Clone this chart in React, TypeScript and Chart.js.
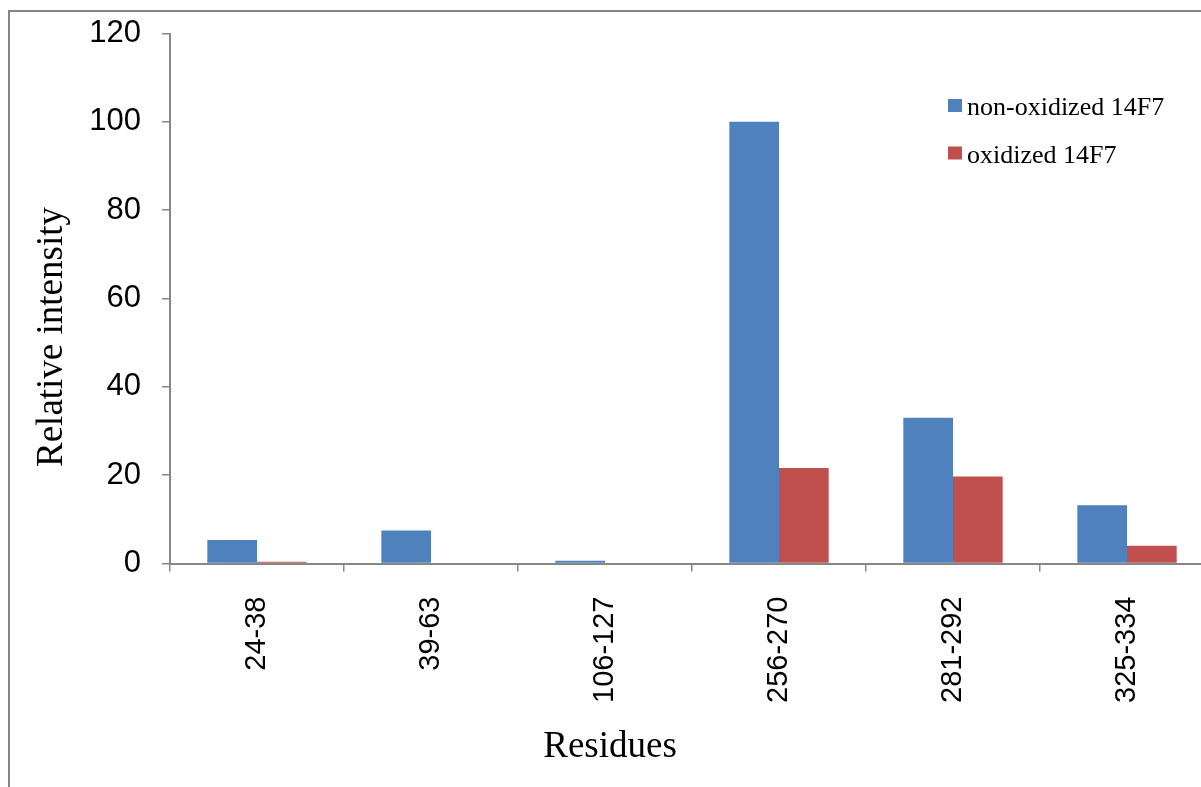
import React, { useEffect, useRef } from "react";
import { Chart, registerables } from "chart.js";

Chart.register(...registerables);

// Peptide residue ranges and relative intensities
const residues = ["24-38", "39-63", "106-127", "256-270", "281-292", "325-334"];
const nonOxidized = [5.3, 7.5, 0.6, 100, 33, 13.2];
const oxidized = [0.4, 0, 0, 21.6, 19.7, 4];
const yTicks = [0, 20, 40, 60, 80, 100, 120];

const seriesLabels = ["non-oxidized 14F7", "oxidized 14F7"];
const seriesColors = ["#4F81BD", "#C0504D"];
const xTitle = "Residues";
const yTitle = "Relative intensity";

const AXIS_GRAY = "#868686";
const TITLE_FONT = "37px 'Liberation Serif'";

// Legend drawn inside the plot, upper right
const insideLegend = {
  id: "insideLegend",
  afterDraw(chart: Chart) {
    const { ctx } = chart;
    ctx.save();
    ctx.font = "26px 'Liberation Serif'";
    ctx.textBaseline = "alphabetic";
    ctx.textAlign = "left";
    chart.data.datasets.forEach((ds, i) => {
      const y = 99 + i * 47.5;
      ctx.fillStyle = ds.backgroundColor as string;
      ctx.fillRect(948, y, 14, 13);
      ctx.fillStyle = "#000";
      ctx.fillText(ds.label as string, 967, y + 16);
    });
    ctx.restore();
  },
};

// Axis titles, placed independently of the scale boxes
const axisTitles = {
  id: "axisTitles",
  afterDraw(chart: Chart) {
    const { ctx } = chart;
    ctx.save();
    ctx.font = TITLE_FONT;
    ctx.fillStyle = "#000";
    ctx.textAlign = "center";
    ctx.textBaseline = "alphabetic";
    ctx.fillText(xTitle, 610, 757);
    ctx.translate(62, 337);
    ctx.rotate(-Math.PI / 2);
    ctx.fillText(yTitle, 0, 0);
    ctx.restore();
  },
};

export default function App() {
  const canvasRef = useRef<HTMLCanvasElement | null>(null);

  useEffect(() => {
    if (!canvasRef.current) return;
    const chart = new Chart(canvasRef.current, {
      type: "bar",
      data: {
        labels: residues,
        datasets: [
          {
            label: seriesLabels[0],
            data: nonOxidized,
            backgroundColor: seriesColors[0],
            categoryPercentage: 0.571,
            barPercentage: 1,
          },
          {
            label: seriesLabels[1],
            data: oxidized,
            backgroundColor: seriesColors[1],
            categoryPercentage: 0.571,
            barPercentage: 1,
          },
        ],
      },
      options: {
        responsive: false,
        animation: false,
        devicePixelRatio: 1,
        layout: { padding: { top: 33.5, right: 16, bottom: 0, left: 0 } },
        plugins: {
          legend: { display: false },
          tooltip: { enabled: false },
        },
        scales: {
          x: {
            offset: true,
            grid: {
              offset: true,
              drawOnChartArea: false,
              drawTicks: true,
              tickLength: 8,
              color: AXIS_GRAY,
              lineWidth: 1.5,
            },
            border: { display: true, color: AXIS_GRAY, width: 2 },
            ticks: {
              minRotation: 90,
              maxRotation: 90,
              autoSkip: false,
              padding: 25,
              color: "#000",
              font: { family: "'Liberation Sans'", size: 29 },
            },
            afterFit(scale: any) {
              scale.height = 223.5;
              scale.paddingLeft = 0;
              scale.paddingRight = 0;
            },
          },
          y: {
            min: 0,
            max: 120,
            afterBuildTicks(scale: any) {
              scale.ticks = yTicks.map((v) => ({ value: v }));
            },
            grid: {
              drawOnChartArea: false,
              drawTicks: true,
              tickLength: 8,
              color: AXIS_GRAY,
              lineWidth: 1.5,
            },
            border: { display: true, color: AXIS_GRAY, width: 2 },
            ticks: {
              padding: 21,
              color: "#000",
              font: { family: "'Liberation Sans'", size: 31 },
            },
            afterFit(scale: any) {
              scale.width = 170;
              scale.paddingTop = 0;
              scale.paddingBottom = 0;
            },
          },
        },
      },
      plugins: [insideLegend, axisTitles],
    });
    return () => chart.destroy();
  }, []);

  return (
    <div
      style={{
        position: "fixed",
        left: 0,
        top: 0,
        width: 1201,
        height: 787,
        overflow: "hidden",
        background: "#fff",
      }}
    >
      <div
        style={{
          position: "absolute",
          left: 8,
          top: 10,
          width: 1300,
          height: 900,
          borderLeft: `2px solid ${AXIS_GRAY}`,
          borderTop: `2px solid ${AXIS_GRAY}`,
          boxSizing: "border-box",
        }}
      />
      <canvas
        ref={canvasRef}
        width={1230}
        height={787}
        style={{ position: "absolute", left: 0, top: 0 }}
      />
    </div>
  );
}
